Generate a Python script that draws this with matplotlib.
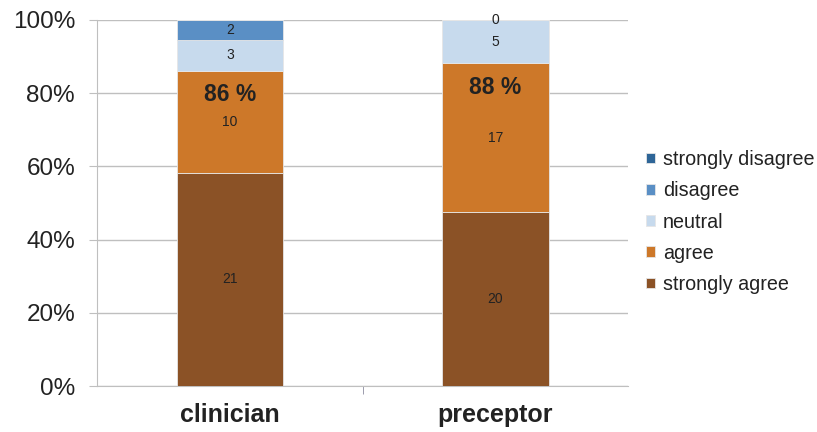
import matplotlib

matplotlib.use("Agg")
import matplotlib.pyplot as plt
import numpy as np
from matplotlib.ticker import PercentFormatter

plt.rcParams["font.family"] = ["Liberation Sans", "DejaVu Sans"]

groups = ["clinician", "preceptor"]
levels = ["strongly agree", "agree", "neutral", "disagree", "strongly disagree"]
counts = {
    "strongly agree": [21, 20],
    "agree": [10, 17],
    "neutral": [3, 5],
    "disagree": [2, 0],
    "strongly disagree": [0, 0],
}
agree_share = ["86 %", "88 %"]
colors = {
    "strongly agree": "#8B5226",
    "agree": "#CD7829",
    "neutral": "#C7DAED",
    "disagree": "#5A8FC5",
    "strongly disagree": "#2E6597",
}

totals = np.sum([counts[k] for k in levels], axis=0)
x = np.arange(len(groups))

fig = plt.figure(figsize=(8.17, 4.32), dpi=100)
ax = fig.add_axes([0.119, 0.106, 0.650, 0.848])

bottom = np.zeros(len(groups))
for level in levels:
    vals = np.array(counts[level])
    share = vals / totals * 100
    ax.bar(x, share, 0.4, bottom=bottom, color=colors[level],
           edgecolor="#E6E6E6", linewidth=0.6, label=level, zorder=3)
    if level != "strongly disagree":
        for xi, b, h, v in zip(x, bottom, share, vals):
            ax.text(xi, b + h / 2, str(v), ha="center", va="center",
                    fontsize=10, color="#222222", zorder=4)
    bottom += share

# combined agreement, printed near the top of the agree segment
agree_top = np.array(counts["strongly agree"]) + np.array(counts["agree"])
for xi, top, txt in zip(x, agree_top / totals * 100, agree_share):
    ax.text(xi, top - 6.5, txt, ha="center", va="center", fontsize=16.5,
            fontweight="bold", color="#222222", zorder=4)

ax.set_xlim(-0.5, 1.5)
ax.set_ylim(0, 100)
ax.set_yticks(np.arange(0, 101, 20))
ax.yaxis.set_major_formatter(PercentFormatter(decimals=0))
ax.grid(axis="y", color="#BFBFBF", linewidth=1, zorder=0)
ax.set_xticks(x)
ax.set_xticklabels(groups, fontsize=18, fontweight="bold", color="#222222")
ax.tick_params(axis="x", length=0, pad=12)
ax.set_xticks([0.5], minor=True)
ax.tick_params(axis="x", which="minor", length=6, color="#8C8CA0")
ax.tick_params(axis="y", labelsize=17.5, labelcolor="#222222", length=6,
               color="#BFBFBF", pad=10)
for side in ["top", "right"]:
    ax.spines[side].set_visible(False)
ax.spines["left"].set_color("#BFBFBF")
ax.spines["bottom"].set_color("#BFBFBF")

handles, labels = ax.get_legend_handles_labels()
ax.legend(handles[::-1], labels[::-1], loc="center left",
          bbox_to_anchor=(1.034, 0.448), frameon=False, fontsize=14.2,
          borderaxespad=0, borderpad=0,
          handlelength=0.45, handleheight=0.45, handletextpad=0.4,
          labelspacing=0.62, labelcolor="#222222")

fig.savefig("out.png", dpi=100)
